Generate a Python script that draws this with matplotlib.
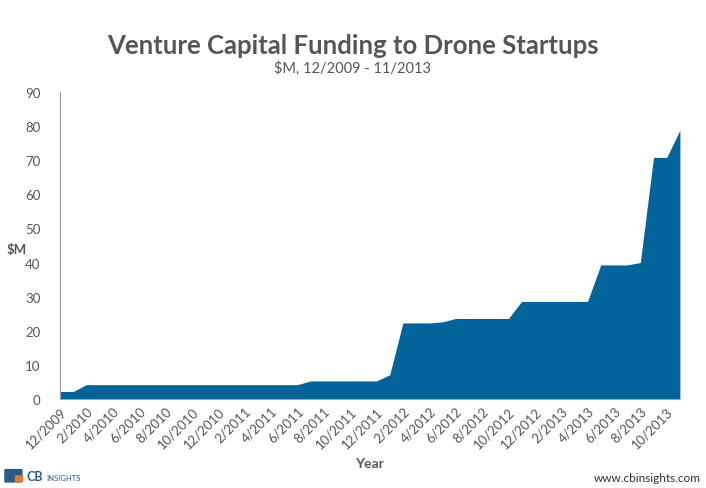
import numpy as np
import matplotlib
matplotlib.use("Agg")
import matplotlib.pyplot as plt
from matplotlib.patches import FancyBboxPatch

# monthly cumulative funding, $M, 12/2009 .. 11/2013
months = []
for y in range(2009, 2014):
    for m in range(1, 13):
        if (y == 2009 and m < 12) or (y == 2013 and m > 11):
            continue
        months.append(f"{m}/{y}")

funding = ([2.2, 2.2] + [4.2] * 17 + [5.3] * 6 + [7.1] + [22.3] * 3 + [22.6]
           + [23.6] * 5 + [28.6] * 6 + [39.3] * 3 + [40.0, 70.8, 70.8, 78.8])

title = "Venture Capital Funding to Drone Startups"
subtitle = "$M, 12/2009 - 11/2013"

plt.rcParams['font.family'] = ['Lato', 'DejaVu Sans']
grey = '#555555'
blue = '#03649B'

fig = plt.figure(figsize=(7.06, 4.89), dpi=100)
ax = fig.add_axes([0.085, 0.182, 0.878, 0.628])

x = np.arange(len(months))
ax.fill_between(x, 0, funding, color=blue, linewidth=0)
ax.set_xlim(0, len(months) - 1)
ax.set_ylim(0, 90)
ax.set_yticks(range(0, 91, 10))
ax.set_xticks(x[::2])
ax.set_xticklabels(months[::2], rotation=45, ha='right', rotation_mode='anchor',
                   fontsize=9.5, color=grey)
ax.tick_params(axis='y', length=0, labelsize=9.5, labelcolor=grey, pad=14)
ax.tick_params(axis='x', length=0, pad=4)
for s in ['top', 'right', 'bottom']:
    ax.spines[s].set_visible(False)
ax.spines['left'].set_color('#999999')
ax.spines['left'].set_linewidth(0.8)

ax.set_ylabel("$M", rotation=0, fontsize=9.5, fontweight='bold', color=grey,
              va='center', ha='center')
ax.yaxis.set_label_coords(-0.07, 0.49)
ax.set_xlabel("Year", fontsize=10, fontweight='bold', color=grey)
ax.xaxis.set_label_coords(0.5, -0.19)

fig.text(0.5, 0.905, title, ha='center', va='center', fontsize=18.5,
         fontweight='bold', color=grey)
fig.text(0.5, 0.86, subtitle, ha='center', va='center', fontsize=10.5, color=grey)

# footer
fig.text(0.993, 0.022, "www.cbinsights.com", ha='right', va='center', fontsize=8.5, color='#333333')
fig.patches.append(FancyBboxPatch((0.008, 0.013), 0.022, 0.024, boxstyle="round,pad=0.002",
                                  transform=fig.transFigure, fc='#2c5a85', ec='none'))
fig.patches.append(FancyBboxPatch((0.022, 0.013), 0.010, 0.012, boxstyle="round,pad=0.001",
                                  transform=fig.transFigure, fc='#e8792b', ec='none'))
fig.text(0.037, 0.025, "CB", ha='left', va='center', fontsize=9, fontweight='bold', color='#2c5a85')
fig.text(0.066, 0.022, "INSIGHTS", ha='left', va='center', fontsize=5.5, color='#2c5a85')

fig.savefig("out.png", dpi=100)
